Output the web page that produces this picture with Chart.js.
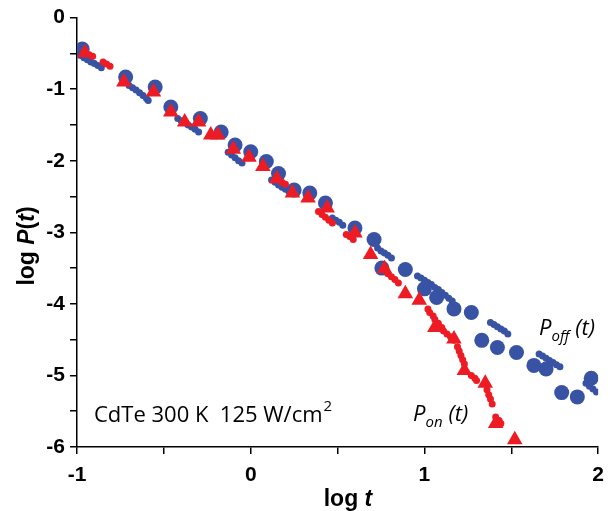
<!DOCTYPE html>
<html>
<head>
<meta charset="utf-8">
<script src="https://cdn.jsdelivr.net/npm/chart.js@4.4.1/dist/chart.umd.min.js"></script>
<style>
  html, body { margin: 0; padding: 0; background: #fff; }
  #wrap { width: 613px; height: 511px; }
</style>
</head>
<body>
<div id="wrap"><canvas id="grafik"></canvas></div>
<script>
// binned points: P_off (blue circles)
const offX = [-0.97, -0.72, -0.55, -0.46, -0.29, -0.17, -0.09, 0.0, 0.09, 0.16, 0.25, 0.34, 0.43, 0.60, 0.71, 0.755, 0.89, 1.0, 1.07, 1.17, 1.27, 1.33, 1.42, 1.53, 1.63, 1.70, 1.79, 1.88, 1.96];
const offY = [-0.44, -0.83, -0.97, -1.25, -1.41, -1.60, -1.78, -1.875, -2.01, -2.18, -2.41, -2.45, -2.59, -2.94, -3.10, -3.50, -3.52, -3.79, -3.91, -4.07, -4.12, -4.51, -4.61, -4.68, -4.86, -4.91, -5.24, -5.30, -5.04];

// binned points: P_on (red triangles)
const onX = [-0.955, -0.73, -0.56, -0.46, -0.38, -0.30, -0.23, -0.19, -0.10, -0.01, 0.07, 0.15, 0.24, 0.33, 0.44, 0.60, 0.69, 0.77, 0.89, 0.97, 1.06, 1.17, 1.23, 1.35, 1.41, 1.52];
const onY = [-0.49, -0.90, -1.04, -1.32, -1.46, -1.46, -1.64, -1.64, -1.84, -1.95, -2.08, -2.25, -2.45, -2.52, -2.66, -3.01, -3.31, -3.51, -3.86, -3.95, -4.33, -4.49, -4.93, -5.11, -5.67, -5.90];

// raw data dots, P_off
const offDotX = [-1.0, -0.98, -0.96, -0.94, -0.92, -0.90, -0.88, -0.86,
  -0.70, -0.68, -0.66, -0.64, -0.62, -0.60, -0.59,
  -0.42, -0.40, -0.38, -0.36, -0.34, -0.32, -0.30,
  -0.13, -0.11, -0.09, -0.07, -0.05,
  0.12, 0.14, 0.16, 0.18, 0.20, 0.22,
  0.47, 0.49, 0.51, 0.53,
  0.73, 0.75, 0.77, 0.79, 0.81,
  0.96, 0.98, 1.00, 1.02, 1.04, 1.06, 1.08, 1.10, 1.12, 1.14, 1.16,
  1.38, 1.40, 1.42, 1.44, 1.46, 1.48,
  1.66, 1.68, 1.70, 1.72, 1.74, 1.76, 1.78,
  1.93, 1.95, 1.97, 1.99];
const offDotY = [-0.50, -0.53, -0.56, -0.59, -0.62, -0.64, -0.67, -0.70,
  -0.95, -0.98, -1.01, -1.05, -1.09, -1.13, -1.16,
  -1.41, -1.44, -1.47, -1.50, -1.53, -1.56, -1.60,
  -1.88, -1.92, -1.96, -2.00, -2.03,
  -2.27, -2.30, -2.34, -2.37, -2.40, -2.43,
  -2.80, -2.83, -2.86, -2.90,
  -3.22, -3.26, -3.29, -3.32, -3.36,
  -3.61, -3.64, -3.67, -3.70, -3.73, -3.77, -3.80, -3.84, -3.88, -3.92, -3.96,
  -4.26, -4.29, -4.32, -4.35, -4.38, -4.42,
  -4.70, -4.73, -4.76, -4.79, -4.82, -4.85, -4.88,
  -5.11, -5.15, -5.19, -5.23];

// raw data dots, P_on
const onDotX = [-0.93, -0.91, -0.85, -0.83, -0.81,
  0.18, 0.20,
  0.39, 0.41, 0.43, 0.45, 0.47,
  0.55, 0.57, 0.59,
  0.79, 0.81, 0.83, 0.85,
  1.02, 1.03, 1.05, 1.06, 1.08, 1.10,
  1.11, 1.13, 1.15, 1.17,
  1.19, 1.20, 1.21, 1.22, 1.23,
  1.27, 1.29, 1.30,
  1.36, 1.37, 1.38, 1.39,
  1.41, 1.43, 1.44];
const onDotY = [-0.52, -0.54, -0.62, -0.65, -0.68,
  -2.30, -2.33,
  -2.71, -2.75, -2.79, -2.83, -2.87,
  -3.03, -3.06, -3.10,
  -3.58, -3.62, -3.66, -3.71,
  -4.07, -4.12, -4.17, -4.22, -4.27, -4.33,
  -4.38, -4.42, -4.46, -4.51,
  -4.60, -4.66, -4.72, -4.78, -4.84,
  -5.00, -5.04, -5.07,
  -5.20, -5.27, -5.33, -5.40,
  -5.58, -5.63, -5.67];

const xTicks = [-1, 0, 1, 2];
const yTicks = [0, -1, -2, -3, -4, -5, -6];

const biru = "#3953a4";
const merah = "#ed1c24";

function gabung(xs, ys) {
  return xs.map((x, i) => ({ x: x, y: ys[i] }));
}

// draws axis titles and the in-plot notes with mixed styles
const tulisan = {
  id: "tulisan",
  afterDraw(chart) {
    const ctx = chart.ctx;
    ctx.save();
    ctx.fillStyle = "#000";
    ctx.textBaseline = "alphabetic";

    function tulisBaris(parts, x0, y0) {
      let w = 0;
      parts.forEach((p) => { ctx.font = p[1]; w += ctx.measureText(p[0]).width; });
      let px = x0 - w / 2;
      parts.forEach((p) => { ctx.font = p[1]; ctx.fillText(p[0], px, y0); px += ctx.measureText(p[0]).width; });
    }

    // x title: log t
    const bold = "bold 23px 'Liberation Sans', Arial, sans-serif";
    const boldIt = "italic bold 23px 'Liberation Sans', Arial, sans-serif";
    tulisBaris([["log ", bold], ["t", boldIt]], 348, 506);

    // y title: log P(t)
    ctx.save();
    ctx.translate(34, 246);
    ctx.rotate(-Math.PI / 2);
    tulisBaris([["log ", bold], ["P", boldIt], ["(", bold], ["t", boldIt], [")", bold]], 0, 0);
    ctx.restore();

    // sample note
    ctx.font = "22px 'Open Sans', sans-serif";
    const catatan = "CdTe 300 K  125 W/cm";
    ctx.fillText(catatan, 94, 422);
    const cw = ctx.measureText(catatan).width;
    ctx.font = "15px 'Open Sans', sans-serif";
    ctx.fillText("2", 94 + cw + 1, 411);

    // series labels
    function label(x, y, sub) {
      ctx.font = "italic 22px 'Open Sans', sans-serif";
      ctx.fillText("P", x, y);
      let q = x + ctx.measureText("P").width;
      ctx.font = "italic 15px 'Open Sans', sans-serif";
      ctx.fillText(sub, q, y + 6);
      q += ctx.measureText(sub).width + 6;
      ctx.font = "italic 22px 'Open Sans', sans-serif";
      ctx.fillText("(t)", q, y);
    }
    label(539, 335, "off");
    label(413, 421, "on");
    ctx.restore();
  },
};

const grafik = new Chart(document.getElementById("grafik").getContext("2d"), {
  type: "scatter",
  data: {
    datasets: [
      {
        label: "P_on dots",
        data: gabung(onDotX, onDotY),
        backgroundColor: merah,
        borderWidth: 0,
        pointRadius: 3.5,
        order: 1,
      },
      {
        label: "P_on",
        data: gabung(onX, onY),
        backgroundColor: merah,
        borderWidth: 0,
        pointStyle: "triangle",
        pointRadius: 9,
        order: 2,
      },
      {
        label: "P_off dots",
        data: gabung(offDotX, offDotY),
        backgroundColor: biru,
        borderWidth: 0,
        pointRadius: 3.5,
        order: 3,
      },
      {
        label: "P_off",
        data: gabung(offX, offY),
        backgroundColor: biru,
        borderWidth: 0,
        pointRadius: 7.5,
        order: 4,
      },
    ],
  },
  options: {
    responsive: true,
    maintainAspectRatio: false,
    animation: false,
    layout: { padding: { top: 15, right: 7, left: 0, bottom: 0 } },
    plugins: {
      legend: { display: false },
      tooltip: { enabled: false },
    },
    scales: {
      x: {
        type: "linear",
        min: -1,
        max: 2,
        afterFit: (s) => { s.height = 64; },
        ticks: {
          stepSize: 0.5,
          autoSkip: false,
          maxRotation: 0,
          padding: 9,
          color: "#000",
          font: { family: "'Liberation Sans', Arial, sans-serif", size: 21, weight: "bold" },
          callback: (v) => (xTicks.includes(v) ? String(v) : ""),
        },
        grid: { drawOnChartArea: false, drawTicks: true, tickLength: 7, color: "#000", lineWidth: 1.5 },
        border: { display: true, color: "#000", width: 1.5 },
      },
      y: {
        type: "linear",
        min: -6,
        max: 0,
        afterFit: (s) => { s.width = 77; },
        ticks: {
          stepSize: 0.5,
          autoSkip: false,
          padding: 5,
          color: "#000",
          font: { family: "'Liberation Sans', Arial, sans-serif", size: 21, weight: "bold" },
          callback: (v) => (yTicks.includes(v) ? String(v) : ""),
        },
        grid: { drawOnChartArea: false, drawTicks: true, tickLength: 7, color: "#000", lineWidth: 1.5 },
        border: { display: true, color: "#000", width: 1.5 },
      },
    },
  },
  plugins: [tulisan],
});
</script>
</body>
</html>
